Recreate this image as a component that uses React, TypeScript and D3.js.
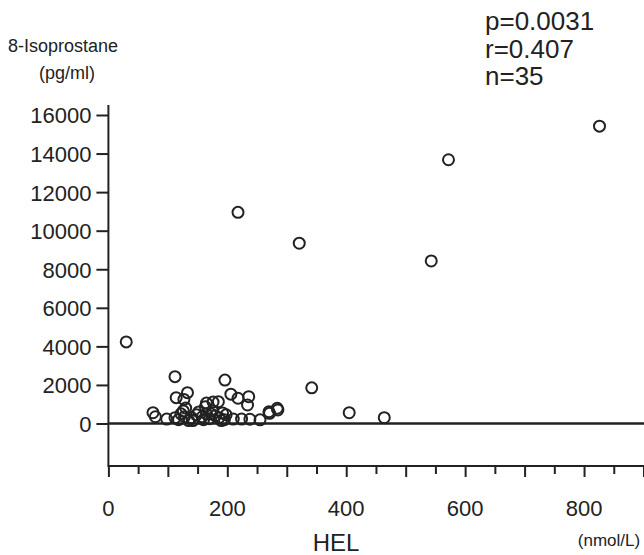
import React, { useEffect, useRef } from "react";
import * as d3 from "d3";

// HEL (nmol/L) vs 8-Isoprostane (pg/ml)
const helValues = [
  30, 218, 321, 342, 572, 543, 826, 405, 464,
  75, 79, 112, 114, 133, 127, 196, 206, 218, 236, 234, 271, 284, 255, 238, 224, 210,
  185, 176, 163, 98, 112, 118, 122, 128, 135, 140, 148, 152, 158, 165, 170, 175, 180,
  186, 192, 195, 198, 126, 142, 160, 130, 172, 190, 270, 285, 165,
];
const isoValues = [
  4230, 10950, 9350, 1850, 13680, 8430, 15420, 560, 300,
  560, 350, 2430, 1340, 1600, 1250, 2250, 1520, 1310, 1390, 960, 530, 790, 190, 220, 230, 230,
  1130, 1110, 870, 230, 300, 200, 500, 350, 150, 300, 450, 600, 350, 500, 250, 650, 400,
  300, 550, 200, 450, 650, 150, 200, 800, 500, 150, 610, 700, 1060,
];
const xTicks = [0, 200, 400, 600, 800];
const yTicks = [0, 2000, 4000, 6000, 8000, 10000, 12000, 14000, 16000];
const statLines = ["p=0.0031", "r=0.407", "n=35"];

const FONT = "Liberation Sans, Arial, sans-serif";

const App = () => {
  const svgRef = useRef<SVGSVGElement>(null);

  useEffect(() => {
    const svg = d3.select(svgRef.current);
    svg.selectAll("*").remove();

    const x = d3.scaleLinear().domain([0, 900]).range([108.4, 643.5]);
    const y = d3.scaleLinear().domain([0, 16000]).range([423.5, 115]);
    const axisY = 466;

    // y axis
    const gy = svg
      .append("g")
      .attr("transform", `translate(${x(0)},0)`)
      .call(d3.axisLeft(y).tickValues(yTicks).tickSize(12).tickPadding(5).tickFormat(d3.format("d")));
    gy.select(".domain").remove();
    gy.selectAll(".tick line").attr("stroke", "#222").attr("stroke-width", 2);
    gy.selectAll(".tick text")
      .attr("font-family", FONT)
      .attr("font-size", 22)
      .attr("fill", "#222")
      .attr("dy", "0.36em");
    svg
      .append("line")
      .attr("x1", x(0)).attr("x2", x(0))
      .attr("y1", 105).attr("y2", axisY + 1)
      .attr("stroke", "#222").attr("stroke-width", 2);

    // x axis, minor ticks every 50
    const gx = svg
      .append("g")
      .attr("transform", `translate(0,${axisY})`)
      .call(d3.axisBottom(x).tickValues(d3.range(0, 901, 50)).tickSize(0).tickFormat(() => ""));
    gx.select(".domain").remove();
    gx.selectAll(".tick line")
      .attr("y2", (d: any) => (d % 100 === 0 ? 11 : 8))
      .attr("stroke", "#222")
      .attr("stroke-width", 2);
    svg
      .append("line")
      .attr("x1", x(0)).attr("x2", 644)
      .attr("y1", axisY).attr("y2", axisY)
      .attr("stroke", "#222").attr("stroke-width", 2);
    svg
      .append("g")
      .selectAll("text")
      .data(xTicks)
      .join("text")
      .attr("x", (d) => x(d))
      .attr("y", 516)
      .attr("text-anchor", "middle")
      .attr("font-family", FONT)
      .attr("font-size", 22)
      .attr("fill", "#222")
      .text((d) => d);

    // zero line
    svg
      .append("line")
      .attr("x1", x(0)).attr("x2", 644)
      .attr("y1", y(0)).attr("y2", y(0))
      .attr("stroke", "#222").attr("stroke-width", 2.5);

    // points
    svg
      .append("g")
      .selectAll("circle")
      .data(helValues.map((h, i) => [h, isoValues[i]]))
      .join("circle")
      .attr("cx", (d) => x(d[0]))
      .attr("cy", (d) => y(d[1]))
      .attr("r", 5.5)
      .attr("fill", "none")
      .attr("stroke", "#222")
      .attr("stroke-width", 2);

    // labels
    const txt = (s: string, tx: number, ty: number, size: number, anchor = "start") =>
      svg
        .append("text")
        .attr("x", tx)
        .attr("y", ty)
        .attr("text-anchor", anchor)
        .attr("font-family", FONT)
        .attr("font-size", size)
        .attr("fill", "#222")
        .text(s);

    txt("8-Isoprostane", 8, 52, 18);
    txt("(pg/ml)", 67, 79, 18, "middle");
    statLines.forEach((s, i) => txt(s, 485, 30 + i * 27.5, 26));
    txt("HEL", 336, 551, 24, "middle");
    txt("(nmol/L)", 609, 546, 17, "middle");
  }, []);

  return (
    <svg
      ref={svgRef}
      width={644}
      height={555}
      style={{ position: "absolute", left: 0, top: 0, background: "#fff" }}
    />
  );
};

export default App;
